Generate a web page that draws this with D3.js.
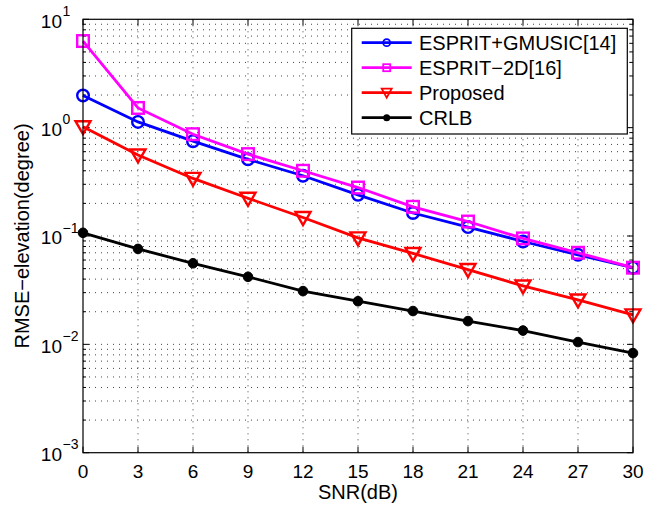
<!DOCTYPE html>
<html><head><meta charset="utf-8">
<script src="https://cdn.jsdelivr.net/npm/d3@7"></script>
<style>body{margin:0;background:#fff}svg{display:block}text{font-family:"Liberation Sans",Arial,sans-serif}</style>
</head><body><svg id="c" width="645" height="508"></svg>
<script>
const snr = [0,3,6,9,12,15,18,21,24,27,30];
const xTicks = [0,3,6,9,12,15,18,21,24,27,30];
const yDecades = [-3,-2,-1,0,1];
const seriesNames = ["ESPRIT+GMUSIC[14]","ESPRIT\u22122D[16]","Proposed","CRLB"];
const gmusic = [1.98,1.13,0.75,0.51,0.36,0.24,0.163,0.121,0.089,0.067,0.051];
const esprit2d = [6.3,1.52,0.87,0.57,0.40,0.28,0.186,0.136,0.095,0.070,0.051];
const proposed = [1.02,0.56,0.34,0.223,0.148,0.096,0.069,0.049,0.0346,0.0257,0.0187];
const crlb = [0.107,0.076,0.056,0.042,0.031,0.025,0.0203,0.0164,0.0134,0.0105,0.0083];
const colors = ["#0000ff","#ff00ff","#ff0000","#000000"];
const markers = ["circle","square","triangle","dot"];
const allSeries = [gmusic, esprit2d, proposed, crlb];

const svg = d3.select("#c");
const L=83, R=633, T=19.3, B=452.7;
const x = d3.scaleLinear().domain([0,30]).range([L,R]);
const y = d3.scaleLog().domain([1e-3,1e1]).range([B,T]);

// grid
const g = svg.append("g");
const minorY = [];
yDecades.forEach(d=>{ for(let k=1;k<10;k++){ const v=k*Math.pow(10,d); if(v>=1e-3 && v<=1e1) minorY.push(v);} });
g.selectAll(".gy").data(minorY.filter(v=>v>1e-3&&v<1e1)).enter().append("line")
 .attr("x1",L).attr("x2",R).attr("y1",d=>y(d)).attr("y2",d=>y(d))
 .attr("stroke","#444").attr("stroke-width",1).attr("stroke-dasharray","1,5");
g.selectAll(".gx").data(xTicks.filter(v=>v>0&&v<30)).enter().append("line")
 .attr("y1",T).attr("y2",B).attr("x1",d=>x(d)).attr("x2",d=>x(d))
 .attr("stroke","#444").attr("stroke-width",1).attr("stroke-dasharray","1,5");

// ticks (inward)
const tk = svg.append("g").attr("stroke","#000").attr("stroke-width",1);
xTicks.forEach(v=>{
  tk.append("line").attr("x1",x(v)).attr("x2",x(v)).attr("y1",B).attr("y2",B-6);
  tk.append("line").attr("x1",x(v)).attr("x2",x(v)).attr("y1",T).attr("y2",T+6);
});
minorY.forEach(v=>{
  const major = Math.abs(Math.log10(v)-Math.round(Math.log10(v)))<1e-9;
  const len = major?6:3;
  tk.append("line").attr("x1",L).attr("x2",L+len).attr("y1",y(v)).attr("y2",y(v));
  tk.append("line").attr("x1",R).attr("x2",R-len).attr("y1",y(v)).attr("y2",y(v));
});

// axis labels
svg.append("g").selectAll("text").data(xTicks).enter().append("text")
 .attr("x",d=>x(d)).attr("y",B+25).attr("text-anchor","middle")
 .attr("font-size",19).text(d=>d);
const yl = svg.append("g");
yDecades.forEach(d=>{
  yl.append("text").attr("x",62).attr("y",y(Math.pow(10,d))+8.3).attr("text-anchor","end").attr("font-size",19).text("10");
  yl.append("text").attr("x",62.5).attr("y",y(Math.pow(10,d))-3.5).attr("font-size",14).text(d===1?"1":(d===0?"0":"\u2212"+(-d)));
});
svg.append("text").attr("x",358).attr("y",499).attr("text-anchor","middle").attr("font-size",20).text("SNR(dB)");
svg.append("text").attr("transform","translate(29,236) rotate(-90)").attr("text-anchor","middle").attr("font-size",20).text("RMSE\u2212elevation(degree)");

// lines
const line = d3.line().x((d,i)=>x(snr[i])).y(d=>y(d));
function drawMarker(sel, type, color, cx, cy){
  if(type==="circle") sel.append("circle").attr("cx",cx).attr("cy",cy).attr("r",5.8).attr("fill","none").attr("stroke",color).attr("stroke-width",2.4);
  else if(type==="square") sel.append("rect").attr("x",cx-5.8).attr("y",cy-5.8).attr("width",11.6).attr("height",11.6).attr("fill","none").attr("stroke",color).attr("stroke-width",2.4);
  else if(type==="triangle") sel.append("path").attr("d",`M${cx-7.5},${cy-5.5}L${cx+7.5},${cy-5.5}L${cx},${cy+7.5}Z`).attr("fill","none").attr("stroke",color).attr("stroke-width",2.4);
  else sel.append("circle").attr("cx",cx).attr("cy",cy).attr("r",4.8).attr("fill",color).attr("stroke",color);
}
const order=[3,2,0,1];
order.forEach(i=>{
  const s = allSeries[i];
  const gg = svg.append("g");
  gg.append("path").datum(s).attr("d",line).attr("fill","none").attr("stroke",colors[i]).attr("stroke-width",2.8);
  s.forEach((v,j)=>drawMarker(gg, markers[i], colors[i], x(snr[j]), y(v)));
});

// frame
svg.append("rect").attr("x",L).attr("y",T).attr("width",R-L).attr("height",B-T).attr("fill","none").attr("stroke","#000").attr("stroke-width",1.2);

// legend
const lg = svg.append("g");
lg.append("rect").attr("x",351.7).attr("y",28.3).attr("width",275.6).attr("height",105.7).attr("fill","#fff").attr("stroke","#000").attr("stroke-width",1.2);
seriesNames.forEach((n,i)=>{
  const yy = 42.7 + i*25;
  lg.append("line").attr("x1",361.7).attr("x2",411.7).attr("y1",yy).attr("y2",yy).attr("stroke",colors[i]).attr("stroke-width",2.8);
  const ms = lg.append("g");
  if(markers[i]==="circle") ms.append("circle").attr("cx",386.7).attr("cy",yy).attr("r",3.5).attr("fill","none").attr("stroke",colors[i]).attr("stroke-width",1.8);
  else if(markers[i]==="square") ms.append("rect").attr("x",383.2).attr("y",yy-3.5).attr("width",7).attr("height",7).attr("fill","none").attr("stroke",colors[i]).attr("stroke-width",1.8);
  else if(markers[i]==="triangle") ms.append("path").attr("d",`M${386.7-5},${yy-4}L${386.7+5},${yy-4}L${386.7},${yy+5}Z`).attr("fill","none").attr("stroke",colors[i]).attr("stroke-width",1.8);
  else ms.append("circle").attr("cx",386.7).attr("cy",yy).attr("r",3.5).attr("fill",colors[i]);
  lg.append("text").attr("x",419).attr("y",yy+7).attr("font-size",20).text(n);
});
</script></body></html>
